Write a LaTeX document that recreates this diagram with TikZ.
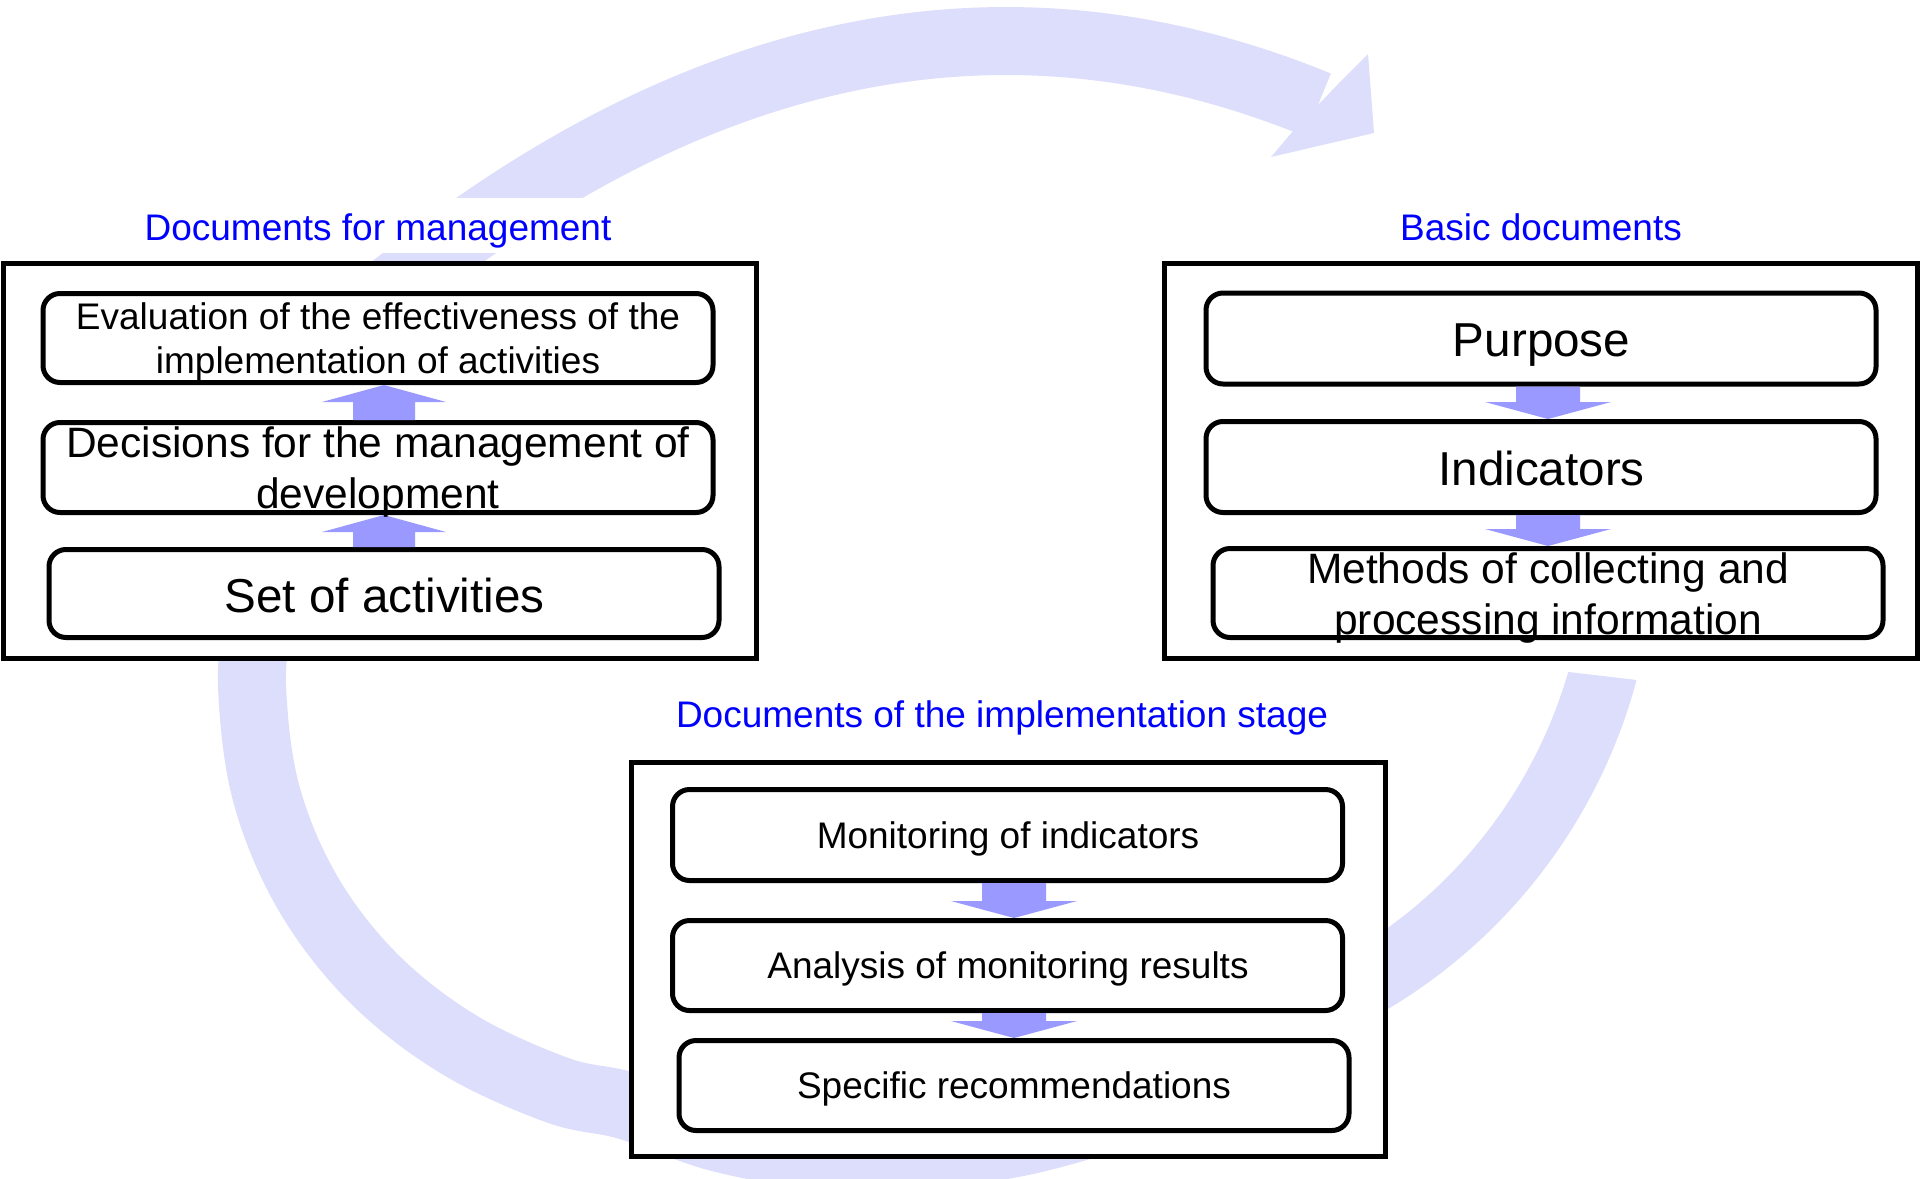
\documentclass[tikz,border=0pt]{standalone}
\usepackage{fontspec}
\setmainfont{Liberation Sans}
\usetikzlibrary{calc}
\definecolor{ring}{RGB}{221,221,252}
\definecolor{barrow}{RGB}{153,153,255}
\definecolor{ttl}{RGB}{0,0,255}
\tikzset{
  outerbox/.style={draw=black, line width=2.5pt, fill=white, inner sep=0pt, outer sep=0pt, rectangle},
  innerbox/.style={draw=black, line width=2.5pt, fill=white, rounded corners=8.5pt, inner sep=0pt, outer sep=0pt, rectangle, minimum width=335pt},
  band/.style={draw=ring, line width=34pt},
  ttlstyle/.style={anchor=base, text=ttl, fill=white, inner sep=0pt, text height=21pt, text depth=6.5pt, font=\fontsize{18.5}{22}\selectfont},
  smalltxt/.style={anchor=base, inner sep=0pt, font=\fontsize{18.5}{22}\selectfont},
  midtxt/.style={anchor=base, inner sep=0pt, font=\fontsize{21.25}{25.5}\selectfont},
  bigtxt/.style={anchor=base, inner sep=0pt, font=\fontsize{23.8}{28}\selectfont},
  blockarrow/.style={fill=barrow},
}
\newcommand{\blkdown}[3]{%
  \fill[blockarrow] ($(#1.south -| #3.north)+(-32,2.5)$) -- ($(#1.south -| #3.north)+(32,2.5)$)
   -- ($(#2.north -| #3.north)+(32,-19.5)$) -- ($(#2.north -| #3.north)+(63,-19.5)$)
   -- ($(#2.north -| #3.north)+(0,-2.5)$) -- ($(#2.north -| #3.north)+(-63,-19.5)$)
   -- ($(#2.north -| #3.north)+(-32,-19.5)$) -- cycle;}
\newcommand{\blkup}[3]{%
  \fill[blockarrow] ($(#1.north -| #3.north)+(-31,-2.5)$) -- ($(#1.north -| #3.north)+(31,-2.5)$)
   -- ($(#2.south -| #3.north)+(31,19.5)$) -- ($(#2.south -| #3.north)+(62,19.5)$)
   -- ($(#2.south -| #3.north)+(0,2.5)$) -- ($(#2.south -| #3.north)+(-62,19.5)$)
   -- ($(#2.south -| #3.north)+(-31,19.5)$) -- cycle;}
\begin{document}
\begin{tikzpicture}[x=0.5pt,y=-0.5pt]
\path[use as bounding box] (0,0) rectangle (1920,1178);
\clip (0,0) rectangle (1920,1178);

% background ring arcs
\draw[band] (361,313) -- (441.5,250.4) .. controls (733.7,33.7) and (1025.9,-14.8) .. (1318,105);
\fill[ring] (1343,79) -- (1368,54) -- (1374,133) -- (1271,157) -- (1293,131) -- cycle;
\begin{scope}
  \clip (1300,640.4) -- (1920,713.3) -- (1920,1178) -- (1300,1178) -- cycle;
  \draw[band] ($(1108,539)+(5:513)$) arc[start angle=5, end angle=66, radius=513];
\end{scope}
\draw[band] plot[smooth, tension=0.6] coordinates {(258.3,614.5) (252,686) (266,792.6) (307.2,892) (372.7,977.3) (458,1044) (557,1090) (628,1106) (720,1138) (820,1155) (920,1155) (1020,1142) (1120,1114) (1200,1084)};

% outer boxes
\node[outerbox, minimum width=376.5pt, minimum height=197.5pt] (Lbox) at (379.5,460.5) {};
\node[outerbox, minimum width=376.5pt, minimum height=197.5pt] (Rbox) at (1540.5,460.5) {};
\node[outerbox, minimum width=377pt, minimum height=197pt] (Bbox) at (1008,959) {};

% titles
\node[ttlstyle] (tL) at (378,240) {Documents for management};
\node[ttlstyle] (tR) at (1541,240) {Basic documents};
\node[ttlstyle] (tB) at (1002,727) {Documents of the implementation stage};

% inner boxes
\node[innerbox, minimum height=44.5pt] (L1) at (378,338) {};
\node[innerbox, minimum height=45pt] (L2) at (378,467.5) {};
\node[innerbox, minimum height=44pt] (L3) at (384,593.5) {};
\node[innerbox, minimum height=45.5pt] (R1) at (1541,338.5) {};
\node[innerbox, minimum height=45.5pt] (R2) at (1541,467) {};
\node[innerbox, minimum height=44.5pt] (R3) at (1548,593) {};
\node[innerbox, minimum height=45.5pt] (B1) at (1007.5,835) {};
\node[innerbox, minimum height=45pt] (B2) at (1007.5,965.5) {};
\node[innerbox, minimum height=45pt] (B3) at (1014,1085.5) {};

% block arrows
\blkup{L2}{L1}{L3}
\blkup{L3}{L2}{L3}
\blkdown{R1}{R2}{R3}
\blkdown{R2}{R3}{R3}
\blkdown{B1}{B2}{B3}
\blkdown{B2}{B3}{B3}

% texts
\node[smalltxt] (xL1) at (378,329) {\begin{tabular}[t]{@{}c@{}}Evaluation of the effectiveness of the\\implementation of activities\end{tabular}};
\node[midtxt] (xL2) at (378,457) {\begin{tabular}[t]{@{}c@{}}Decisions for the management of\\development\end{tabular}};
\node[bigtxt] (xL3) at (384.5,612) {Set of activities};
\node[bigtxt] (xR1) at (1541.6,356) {Purpose};
\node[bigtxt] (xR2) at (1541.6,485) {Indicators};
\node[midtxt] (xR3) at (1548,583) {\begin{tabular}[t]{@{}c@{}}Methods of collecting and\\processing information\end{tabular}};
\node[smalltxt] (xB1) at (1008,848) {Monitoring of indicators};
\node[smalltxt] (xB2) at (1008,978) {Analysis of monitoring results};
\node[smalltxt] (xB3) at (1014,1098) {Specific recommendations};
\end{tikzpicture}
\end{document}
